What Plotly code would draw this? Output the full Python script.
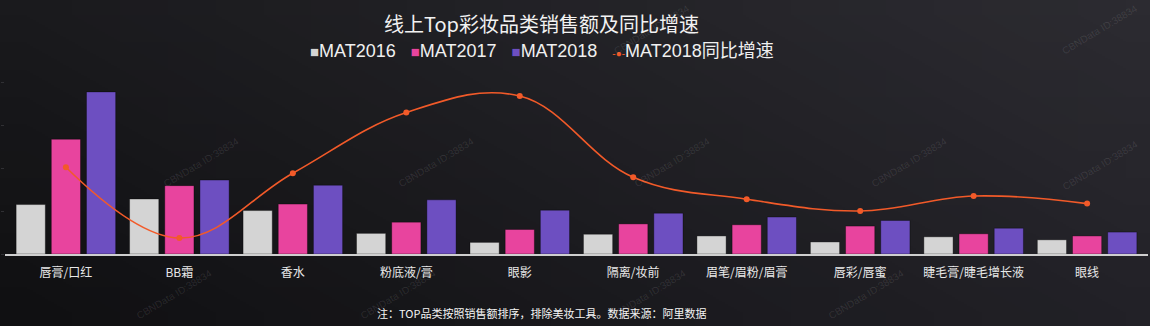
import base64, struct, zlib
import plotly.graph_objects as go

# ---------------- data ----------------
categories = ["唇膏/口红", "BB霜", "香水", "粉底液/膏", "眼影", "隔离/妆前",
              "眉笔/眉粉/眉膏", "唇彩/唇蜜", "睫毛膏/睫毛增长液", "眼线"]
mat2016 = [115, 128, 101, 48, 27, 46, 42, 28, 40, 33]
mat2017 = [267, 159, 116, 74, 57, 70, 68, 65, 47, 42]
mat2018 = [377, 172, 160, 126, 102, 95, 86, 78, 60, 51]
growth2018 = [43.4, 8.0, 40.4, 70.7, 79.0, 38.4, 27.4, 21.5, 29.0, 25.2]
series_names = ["MAT2016", "MAT2017", "MAT2018", "MAT2018同比增速"]

title_text = "线上Top彩妆品类销售额及同比增速"
note_text = "注：TOP品类按照销售额排序，排除美妆工具。数据来源：阿里数据"
watermark = "CBNData ID:38834"

# ---------------- style ----------------
W, H = 1150, 326
ML, MR, MT, MB = 5, 2, 82, 72
FONT = "Liberation Sans, Arial, Noto Sans CJK SC, sans-serif"
CJK = "Noto Sans CJK SC, Liberation Sans, sans-serif"
C16, C17, C18, CLINE = "#d4d4d4", "#e8449e", "#6d4fc1", "#f25a29"


def gradient_png(w, h, tl, tr, bl, br):
    rows = b""
    for j in range(h):
        v = j / (h - 1)
        rows += b"\x00"
        for i in range(w):
            u = i / (w - 1)
            px = []
            for k in range(3):
                top = tl[k] * (1 - u) + tr[k] * u
                bot = bl[k] * (1 - u) + br[k] * u
                px.append(int(round(top * (1 - v) + bot * v)))
            rows += bytes(px)

    def chunk(t, d):
        c = struct.pack(">I", len(d)) + t + d
        return c + struct.pack(">I", zlib.crc32(t + d) & 0xffffffff)

    png = b"\x89PNG\r\n\x1a\n"
    png += chunk(b"IHDR", struct.pack(">IIBBBBB", w, h, 8, 2, 0, 0, 0))
    png += chunk(b"IDAT", zlib.compress(rows))
    png += chunk(b"IEND", b"")
    return "data:image/png;base64," + base64.b64encode(png).decode()


bg = gradient_png(24, 12, (0x1a, 0x1a, 0x1d), (0x2c, 0x2b, 0x31),
                  (0x10, 0x10, 0x12), (0x22, 0x21, 0x27))

fig = go.Figure()
for name, vals, col in [(series_names[0], mat2016, C16),
                        (series_names[1], mat2017, C17),
                        (series_names[2], mat2018, C18)]:
    fig.add_trace(go.Bar(x=categories, y=vals, name=name,
                         marker=dict(color=col, line=dict(color="rgba(0,0,0,0.35)", width=1)),
                         showlegend=False))

fig.add_trace(go.Scatter(x=categories, y=growth2018, name=series_names[3], yaxis="y2",
                         mode="lines+markers",
                         line=dict(color=CLINE, width=1.6, shape="spline", smoothing=1.1),
                         marker=dict(color=CLINE, size=6),
                         showlegend=False, cliponaxis=False))

pw = W - ML - MR
ph = H - MT - MB


def px_x(x):
    return (x - ML) / pw


def px_y(y):
    return 1 - (y - MT) / ph


annotations = []
annotations.append(dict(text=title_text, x=px_x(541), y=px_y(23), xref="paper", yref="paper",
                        showarrow=False, xanchor="center", yanchor="middle",
                        font=dict(family=CJK, size=20, color="#f2f2f2")))
sp = "\u00a0" * 3
legend_text = (f"<span style='color:{C16};font-size:15px'>■</span>{series_names[0]}{sp}"
               f"<span style='color:{C17};font-size:15px'>■</span>{series_names[1]}{sp}"
               f"<span style='color:{C18};font-size:15px'>■</span>{series_names[2]}{sp}"
               f"<span style='color:{CLINE};font-size:10px'>-●-</span>{series_names[3]}")
annotations.append(dict(text=legend_text, x=px_x(542), y=px_y(51), xref="paper", yref="paper",
                        showarrow=False, xanchor="center", yanchor="middle",
                        font=dict(family=FONT, size=18, color="#f0f0f0")))
annotations.append(dict(text=note_text, x=px_x(541), y=px_y(313), xref="paper", yref="paper",
                        showarrow=False, xanchor="center", yanchor="middle",
                        font=dict(family=CJK, size=11, color="#f4f4f4")))

# faint watermarks
wm_pos = [(652, 30), (1100, 30),
          (201, 162), (436, 162), (672, 162), (909, 162), (1100, 165),
          (174, 294), (398, 294), (648, 294), (866, 294)]
for (wx, wy) in wm_pos:
    annotations.append(dict(text=watermark, x=px_x(wx), y=px_y(wy), xref="paper", yref="paper",
                            showarrow=False, textangle=-31, xanchor="center", yanchor="middle",
                            font=dict(family=FONT, size=10, color="rgba(255,255,255,0.10)")))

fig.update_layout(
    width=W, height=H,
    margin=dict(l=ML, r=MR, t=MT, b=MB, pad=0),
    paper_bgcolor="#1a1a1e", plot_bgcolor="rgba(0,0,0,0)",
    barmode="group", bargap=0.07, bargroupgap=0.17,
    showlegend=False,
    xaxis=dict(type="category", showgrid=False, zeroline=False,
               showline=True, linecolor="#cfcfcf", linewidth=2,
               ticks="", ticklabelstandoff=7,
               tickfont=dict(family=CJK, size=12, color="#e8e8e8")),
    yaxis=dict(range=[0, 400], tickvals=[0, 100, 200, 300, 400], showticklabels=False,
               showgrid=False, zeroline=False, ticks="outside", ticklen=3,
               tickcolor="#303034", showline=False),
    yaxis2=dict(range=[0, 86], overlaying="y", side="right", visible=False),
    annotations=annotations,
    images=[dict(source=bg, xref="paper", yref="paper", x=-ML / pw, y=1 + MT / ph,
                 sizex=W / pw, sizey=H / ph, sizing="stretch", layer="below",
                 xanchor="left", yanchor="top")],
)

fig.write_html("out.html")
